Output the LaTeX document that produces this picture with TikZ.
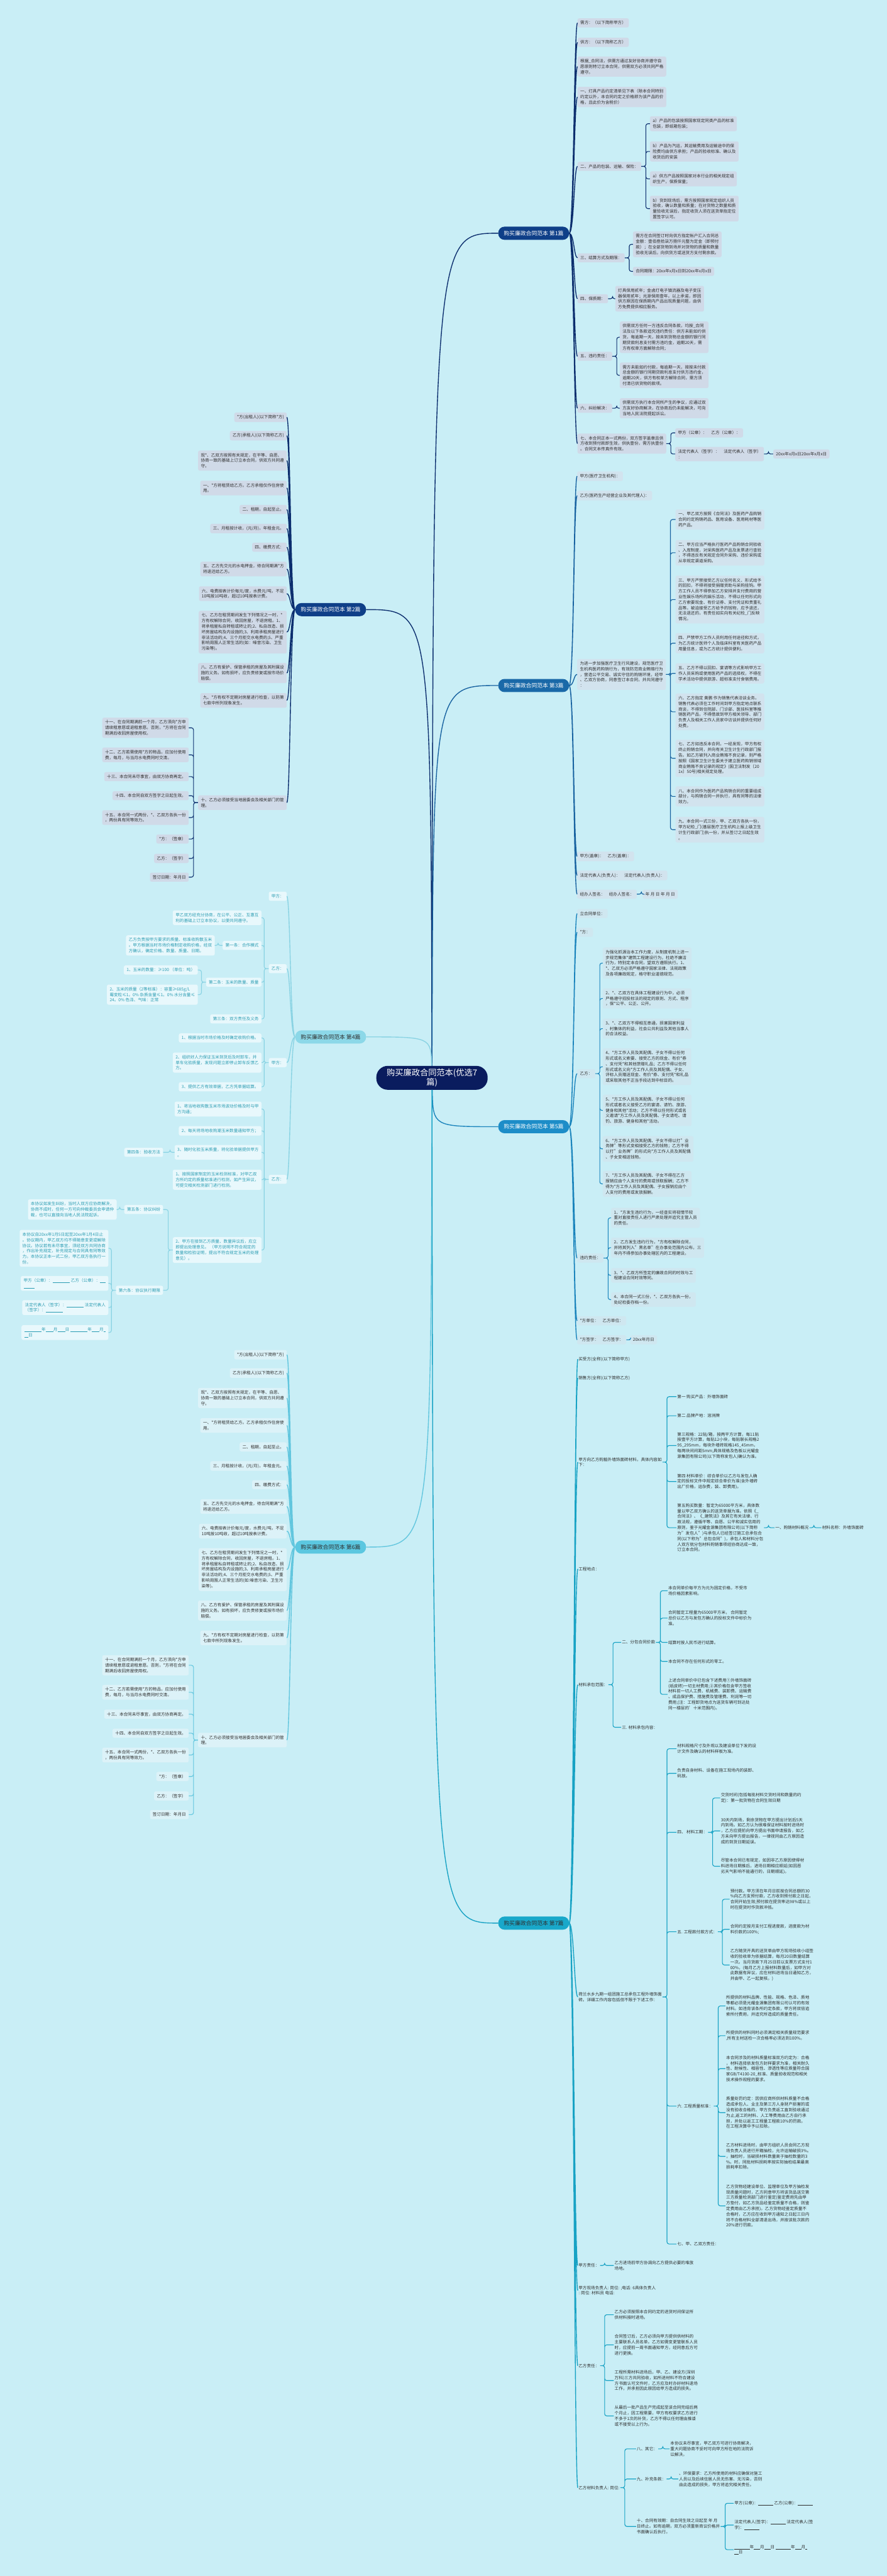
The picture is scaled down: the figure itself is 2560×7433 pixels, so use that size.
\documentclass[tikz,border=0pt]{standalone}
\usepackage{fontspec}
\setmainfont{Noto Sans CJK SC}
\usepackage{tikz}

\definecolor{bgcyan}{HTML}{C9EEF6}
\definecolor{rootblue}{HTML}{0A1C5E}
\definecolor{navy}{HTML}{0C2E6E}
\definecolor{b1node}{HTML}{0F3F88}
\definecolor{graybox}{HTML}{D0DAE8}
\definecolor{b3node}{HTML}{1A69A8}
\definecolor{b3line}{HTML}{1762A0}
\definecolor{b3box}{HTML}{D2E3EE}
\definecolor{b4node}{HTML}{8CD8E8}
\definecolor{b4line}{HTML}{8AD3E3}
\definecolor{b4box}{HTML}{E8F8FC}
\definecolor{b4text}{HTML}{2A9CB2}
\definecolor{b5node}{HTML}{1D8DC8}
\definecolor{b5line}{HTML}{1A84BC}
\definecolor{b5box}{HTML}{CFE7F0}
\definecolor{b6node}{HTML}{5BC7E0}
\definecolor{b6line}{HTML}{62C6DE}
\definecolor{b6box}{HTML}{DCF2F8}
\definecolor{b7node}{HTML}{19A8CA}
\definecolor{b7line}{HTML}{17A2C4}
\definecolor{inkgray}{HTML}{2E2E2E}

\newcommand{\lineblank}[1]{\rule[-1.5pt]{#1}{0.6pt}}

\tikzset{root/.style={
		rectangle,
		rounded corners=33pt,
		fill=rootblue,
		text=white,
		align=center,
		inner xsep=30pt,
		inner ysep=8pt,
		font=\fontsize{24}{28}\selectfont,
	}
}
\tikzset{topic/.style={
		rectangle,
		rounded corners=18pt,
		minimum height=38pt,
		inner xsep=16pt,
		font=\fontsize{16}{19}\selectfont,
	}
}
\tikzset{leaf/.style={
		rectangle,
		rounded corners=5pt,
		align=left,
		inner xsep=8pt,
		inner ysep=7.5pt,
		text=inkgray,
		font=\fontsize{12}{16}\selectfont,
	}
}
\tikzset{b1leaf/.style={leaf, fill=graybox, anchor=west}}
\tikzset{b2leaf/.style={leaf, fill=graybox, anchor=east}}
\tikzset{b3leaf/.style={leaf, fill=b3box, anchor=west}}
\tikzset{b4leaf/.style={leaf, fill=b4box, text=b4text, anchor=east}}
\tikzset{b5leaf/.style={leaf, fill=b5box, anchor=west}}
\tikzset{b6leaf/.style={leaf, fill=b6box, anchor=east}}
\tikzset{b7leaf/.style={leaf, inner xsep=2pt, inner ysep=3pt, anchor=west}}
% connectors
\tikzset{fanR/.style={line width=2.5pt, to path={.. controls +(14,0) and +(-10,0) .. (\tikztotarget)}}}
\tikzset{fanL/.style={line width=2.5pt, to path={.. controls +(-14,0) and +(10,0) .. (\tikztotarget)}}}
\tikzset{brR/.style={line width=2pt, rounded corners=6pt, to path={-- ++(13,0) |- (\tikztotarget)}}}
\tikzset{brL/.style={line width=2pt, rounded corners=6pt, to path={-- ++(-13,0) |- (\tikztotarget)}}}

\begin{document}
\begin{tikzpicture}[x=1pt, y=-1pt]

\fill[bgcyan] (0,0) rectangle (2560,7433);
\useasboundingbox (0,0) rectangle (2560,7433);

% root and topics
\node[root] (root) at (1247,3110) {购买廉政合同范本(优选7\\篇)};
\node[topic, fill=b1node, text=white, anchor=east] (b1) at (1643,673) {购买廉政合同范本 第1篇};
\node[topic, fill=b1node, text=white, anchor=west] (b2) at (852,1759) {购买廉政合同范本 第2篇};
\node[topic, fill=b3node, text=white, anchor=east] (b3) at (1643,1978) {购买廉政合同范本 第3篇};
\node[topic, fill=b4node, text=inkgray, anchor=west] (b4) at (852,2992) {购买廉政合同范本 第4篇};
\node[topic, fill=b5node, text=white, anchor=east] (b5) at (1643,3251) {购买廉政合同范本 第5篇};
\node[topic, fill=b6node, text=inkgray, anchor=west] (b6) at (852,4464) {购买廉政合同范本 第6篇};
\node[topic, fill=b7node, text=inkgray, anchor=east] (b7) at (1643,5549) {购买廉政合同范本 第7篇};

\draw[navy, line width=2.5pt] (root) .. controls (1250,673) .. (b1.west);
\draw[navy, line width=2.5pt] (root) .. controls (1244,1759) .. (b2.east);
\draw[b3line, line width=2.5pt] (root) .. controls (1250,1978) .. (b3.west);
\draw[b4line, line width=2.5pt] (root) .. controls (1244,2992) .. (b4.east);
\draw[b5line, line width=2.5pt] (root) .. controls (1250,3251) .. (b5.west);
\draw[b6line, line width=2.5pt] (root) .. controls (1244,4464) .. (b6.east);
\draw[b7line, line width=2.5pt] (root) .. controls (1250,5549) .. (b7.west);

% branch 1
\node[b1leaf] (b1a) at (1667,66) {需方：（以下简称甲方）};
\node[b1leaf] (b1b) at (1667,122) {供方：（以下简称乙方）};
\node[b1leaf] (b1c) at (1667,192) {根据\_合同法，供需方通过友好协商并遵守自\\愿原则特订立本合同，供需双方必须共同严格\\遵守。};
\node[b1leaf] (b1d) at (1667,280) {一、灯具产品约定清单见下表（除本合同特别\\约定以外，本合同约定之价格即为该产品的价\\格，且此价为含税价）};
\node[b1leaf] (b1e) at (1667,480) {二、产品的包装、运输、保险：};
\node[b1leaf] (b1e1) at (1876,357) {a）产品的包装按照国家现定同类产品的标准\\包装，即纸箱包装；};
\node[b1leaf] (b1e2) at (1876,437) {b）产品为汽运，其运输费用及运输途中的保\\险费均由供方承担；产品的验收标准、确认及\\收货后的安装};
\node[b1leaf] (b1e3) at (1876,516) {a）供方产品按照国家对本行业的相关规定组\\织生产，保质保量；};
\node[b1leaf] (b1e4) at (1876,602) {b）货到现场后，需方按照国家规定组织人员\\验收，确认数量和质量；在对货物之数量和质\\量验收无误后，指定收货人须在送货单指定位\\置签字认可。};
\node[b1leaf] (b1f) at (1667,744) {三、结算方式及期限：};
\node[b1leaf] (b1f1) at (1827,705) {需方在合同签订时向供方指定帐户汇入合同总\\金额：壹佰叁拾柒万捌仟元整为定金（即预付\\款）；在全部货物到场并对货物的质量和数量\\验收无误后，向供货方或送货方支付剩余款。};
\node[b1leaf] (b1f2) at (1827,783) {合同期限：20xx年x月x日到20xx年x月x日};
\node[b1leaf] (b1g) at (1667,862) {四、保质期：};
\node[b1leaf] (b1g1) at (1776,862) {灯具保用贰年；金卤灯电子镇流器及电子变压\\器保用贰年；光源保用壹年。以上承诺，即因\\供方原因在保质期内产品出现质量问题，由供\\方免费提供相应服务。};
\node[b1leaf] (b1h) at (1667,1028) {五、违约责任：};
\node[b1leaf] (b1h1) at (1789,973) {供需双方任何一方违反合同条款，均按\_合同\\法及以下条款追究违约责任：供方未能如约供\\货，每逾期一天，按未到货物总金额的银行同\\期贷款利息支付需方违约金，逾期20天，需\\方有权单方面解除合同；};
\node[b1leaf] (b1h2) at (1789,1083) {需方未能如约付款，每逾期一天，按按未付款\\总金额的银行同期贷款利息支付供方违约金，\\逾期20天，供方有权单方解除合同，需方须\\付清已供货物的款项。};
\node[b1leaf] (b1i) at (1667,1178) {六、纠纷解决：};
\node[b1leaf] (b1i1) at (1789,1178) {供需双方执行本合同所产生的争议，应通过双\\方友好协商解决，在协商后仍未能解决，可向\\当地人民法院提起诉讼。};
\node[b1leaf] (b1j) at (1667,1280) {七、本合同正本一式两份，双方签字盖章且供\\方收到预付款即生效，供执壹份，需方执壹份\\。合同文本传真件有效。};
\node[b1leaf] (b1j1) at (1949,1249) {甲方（公章）：　乙方（公章）：};
\node[b1leaf] (b1j2) at (1949,1310) {法定代表人（签字）：　法定代表人（签字）\\：};
\node[b1leaf] (b1j3) at (2232,1310) {20xx年x月x日20xx年x月x日};

\draw[navy, fanR] (b1.east) to (b1a.west) (b1.east) to (b1b.west) (b1.east) to (b1c.west) (b1.east) to (b1d.west) (b1.east) to (b1e.west);
\draw[navy, fanR] (b1.east) to (b1f.west) (b1.east) to (b1g.west) (b1.east) to (b1h.west) (b1.east) to (b1i.west) (b1.east) to (b1j.west);
\draw[navy, brR] (b1e.east) to (b1e1.west) (b1e.east) to (b1e2.west) (b1e.east) to (b1e3.west) (b1e.east) to (b1e4.west);
\draw[navy, brR] (b1f.east) to (b1f1.west) (b1f.east) to (b1f2.west) (b1g.east) to (b1g1.west);
\draw[navy, brR] (b1h.east) to (b1h1.west) (b1h.east) to (b1h2.west) (b1i.east) to (b1i1.west);
\draw[navy, brR] (b1j.east) to (b1j1.west) (b1j.east) to (b1j2.west) (b1j2.east) to (b1j3.west);

% branch 2
\node[b2leaf] (b2a) at (828,1204) {*方(出租人)(以下简称*方)};
\node[b2leaf] (b2b) at (828,1257) {乙方(承租人)(以下简称乙方)};
\node[b2leaf] (b2c) at (828,1329) {现*、乙双方按照有关规定，在平等、自愿、\\协商一致的基础上订立本合同，供双方共同遵\\守。};
\node[b2leaf] (b2d) at (828,1408) {一、*方将租赁给乙方。乙方承租仅作住房使\\用。};
\node[b2leaf] (b2e) at (828,1470) {二、租期，自起至止。};
\node[b2leaf] (b2f) at (828,1525) {三、月租按计收，(元/月)，年租金元。};
\node[b2leaf] (b2g) at (828,1579) {四、缴费方式：};
\node[b2leaf] (b2h) at (828,1642) {五、乙方先交元的水电押金，待合同期满*方\\将退还给乙方。};
\node[b2leaf] (b2i) at (828,1713) {六、电费按表计价每元/度，水费元/吨，不足\\10吨按10吨收，超过10吨按表计费。};
\node[b2leaf] (b2j) at (828,1824) {七、乙方在租赁期间发生下列情况之一时，*\\方有权解除合同，收回房屋，不退房租。1、\\将承租屋私自转租或转让的;2、私自改造、损\\坏房屋结构及内设施的;3、利用承租房屋进行\\非法活动的;4、三个月拒交水电费的;5、严重\\影响周围人正常生活的(如：噪音污染、卫生\\污染等)。};
\node[b2leaf] (b2k) at (828,1942) {八、乙方有爱护、保管承租的房屋及其附属设\\施的义务。如有损坏，应负责修复或按市场价\\赔偿。};
\node[b2leaf] (b2l) at (828,2021) {九、*方有权不定期对房屋进行检查，以防第\\七款中所列现象发生。};
\node[b2leaf] (b2m) at (828,2316) {十、乙方必须接受当地居委会及相关部门的管\\理。};
\node[b2leaf] (b2m1) at (545,2100) {十一、在合同期满前一个月，乙方须向*方申\\请续租意愿或退租意愿。否则，*方将在合同\\期满后收回房屋使用权。};
\node[b2leaf] (b2m2) at (545,2178) {十二、乙方若需使用*方的物品，应加付使用\\费，每月，与当月水电费同时交清。};
\node[b2leaf] (b2m3) at (545,2241) {十三、本合同未尽事宜，由双方协商再定。};
\node[b2leaf] (b2m4) at (545,2296) {十四、本合同自双方签字之日起生效。};
\node[b2leaf] (b2m5) at (545,2359) {十五、本合同一式两份，*、乙双方各执一份\\，两份具有同等效力。};
\node[b2leaf] (b2m6) at (545,2421) {*方：（签章）};
\node[b2leaf] (b2m7) at (545,2477) {乙方：（签字）};
\node[b2leaf] (b2m8) at (545,2531) {签订日期：年月日};

\draw[navy, fanL] (b2.west) to (b2a.east) (b2.west) to (b2b.east) (b2.west) to (b2c.east) (b2.west) to (b2d.east) (b2.west) to (b2e.east) (b2.west) to (b2f.east) (b2.west) to (b2g.east);
\draw[navy, fanL] (b2.west) to (b2h.east) (b2.west) to (b2i.east) (b2.west) to (b2j.east) (b2.west) to (b2k.east) (b2.west) to (b2l.east) (b2.west) to (b2m.east);
\draw[navy, brL] (b2m.west) to (b2m1.east) (b2m.west) to (b2m2.east) (b2m.west) to (b2m3.east) (b2m.west) to (b2m4.east);
\draw[navy, brL] (b2m.west) to (b2m5.east) (b2m.west) to (b2m6.east) (b2m.west) to (b2m7.east) (b2m.west) to (b2m8.east);

% branch 3
\node[b3leaf] (b3a) at (1666,1374) {甲方(医疗卫生机构)：};
\node[b3leaf] (b3b) at (1666,1430) {乙方(医药生产经营企业及其代理人)：};
\node[b3leaf] (b3c) at (1666,1946) {为进一步加强医疗卫生行风建设，规范医疗卫\\生机构医药购销行为，有效防范商业贿赂行为\\，营造公平交易、诚实守信的购销环境，经甲\\、乙双方协商，同意签订本合同，并共同遵守\\：};
\node[b3leaf] (b3c1) at (1950,1499) {一、甲乙双方按照《合同法》及医药产品购销\\合同约定购销药品、医用设备、医用耗材等医\\药产品。};
\node[b3leaf] (b3c2) at (1950,1595) {二、甲方应当严格执行医药产品购销合同验收\\、入库制度，对采购医药产品及发票进行查验\\，不得违反有关规定合同外采购、违价采购或\\从非规定渠道采购。};
\node[b3leaf] (b3c3) at (1950,1730) {三、甲方严禁接受乙方以任何名义、形式给予\\的回扣，不得将接受捐赠资助与采购挂钩。甲\\方工作人员不得参加乙方安排并支付费用的营\\业性娱乐场所的娱乐活动，不得以任何形式向\\乙方索要现金、有价证券、支付凭证和贵重礼\\品等。被迫接受乙方给予的钱物，应予退还，\\无法退还的，有责任如实向有关纪检\_门反映\\情况。};
\node[b3leaf] (b3c4) at (1950,1856) {四、严禁甲方工作人员利用任何途径和方式，\\为乙方统计医师个人及临床科室有关医药产品\\用量信息，或为乙方统计提供便利。};
\node[b3leaf] (b3c5) at (1950,1943) {五、乙方不得以回扣、宴请等方式影响甲方工\\作人员采购或使用医药产品的选择权，不得在\\学术活动中提供旅游、超标准支付食宿费用。};
\node[b3leaf] (b3c6) at (1950,2054) {六、乙方指定 黄鹏 作为销售代表洽谈业务。\\销售代表必须在工作时间到甲方指定地点联系\\商谈，不得到住院部、门诊部、医技科室等推\\销医药产品，不得借故到甲方相关领导、部门\\负责人及相关工作人员家中访谈并提供任何好\\处费。};
\node[b3leaf] (b3c7) at (1950,2188) {七、乙方如违反本合同，一经发现，甲方有权\\终止购销合同，并向有关卫生计生行政部门报\\告。如乙方被列入商业贿赂不良记录，则严格\\按照《国家卫生计生委关于建立医药购销领域\\商业贿赂不良记录的规定》(国卫法制发〔20\\1x〕50号)相关规定处理。};
\node[b3leaf] (b3c8) at (1950,2298) {八、本合同作为医药产品购销合同的重要组成\\部分，与购销合同一并执行，具有同等的法律\\效力。};
\node[b3leaf] (b3c9) at (1950,2394) {九、本合同一式三份，甲、乙双方各执一份，\\甲方纪检\_门(基层医疗卫生机构上报上级卫生\\计生行政部门)执一份，并从签订之日起生效\\。};
\node[b3leaf] (b3d) at (1666,2471) {甲方(盖章)：　乙方(盖章)：};
\node[b3leaf] (b3e) at (1666,2526) {法定代表人(负责人)：　法定代表人(负责人)：};
\node[b3leaf] (b3f) at (1666,2580) {经办人签名：　经办人签名：};
\node[b3leaf] (b3f1) at (1855,2580) {年 月 日 年 月 日};

\draw[b3line, fanR] (b3.east) to (b3a.west) (b3.east) to (b3b.west) (b3.east) to (b3c.west) (b3.east) to (b3d.west) (b3.east) to (b3e.west) (b3.east) to (b3f.west);
\draw[b3line, brR] (b3c.east) to (b3c1.west) (b3c.east) to (b3c2.west) (b3c.east) to (b3c3.west) (b3c.east) to (b3c4.west) (b3c.east) to (b3c5.west);
\draw[b3line, brR] (b3c.east) to (b3c6.west) (b3c.east) to (b3c7.west) (b3c.east) to (b3c8.west) (b3c.east) to (b3c9.west) (b3f.east) to (b3f1.west);

% branch 4
\node[b4leaf] (b4a) at (828,2586) {甲方：};
\node[b4leaf] (b4b) at (828,2795) {乙方：};
\node[b4leaf] (b4b1) at (755,2648) {甲乙双方经充分协商，在公平、公正、互惠互\\利的基础上订立本协议，以便共同遵守。};
\node[b4leaf] (b4b2) at (755,2728) {第一条：合作模式};
\node[b4leaf] (b4b2a) at (620,2728) {乙方负责按甲方要求的质量、标准收购散玉米\\。甲方根据当时市场价格制定收购价格，经双\\方确认，确定价格、数量、质量、日期。};
\node[b4leaf] (b4b3) at (755,2834) {第二条：玉米的数量、质量};
\node[b4leaf] (b4b3a) at (571,2799) {1、玉米的数量：≥100 （单位：吨）};
\node[b4leaf] (b4b3b) at (571,2870) {2、玉米的质量（2等标准）：容重≥685g/L\\霉变粒≤1。0\% 杂质含量≤1。0\% 水分含量≤\\24。0\% 色泽、气味：正常};
\node[b4leaf] (b4b4) at (755,2940) {第三条：双方责任及义务};
\node[b4leaf] (b4c) at (828,3066) {甲方：};
\node[b4leaf] (b4c1) at (755,2995) {1、根据当时市场价格及时确定收购价格。};
\node[b4leaf] (b4c2) at (755,3066) {2、组织好人力保证玉米到货后及时卸车，并\\单车化验质量，发现问题立即停止卸车反馈乙\\方。};
\node[b4leaf] (b4c3) at (755,3136) {3、提供乙方有效单据，乙方凭单据结算。};
\node[b4leaf] (b4d) at (828,3403) {乙方：};
\node[b4leaf] (b4d1) at (755,3200) {1、将当地收购散玉米市场波动价格及时与甲\\方沟通；};
\node[b4leaf] (b4d2) at (755,3263) {2、每天将场地收购潮玉米数量通知甲方；};
\node[b4leaf] (b4d3) at (755,3325) {3、随时化验玉米质量，将化验单据提供甲方\\。};
\node[b4leaf] (b4d3a) at (471,3325) {第四条：验收方法};
\node[b4leaf] (b4d4) at (755,3404) {1、按照国家制定的玉米检测标准，对甲乙双\\方所约定的质量标准进行检测，如产生异议，\\可提交相关检测部门进行检测。};
\node[b4leaf] (b4d5) at (755,3607) {2、甲方在接到乙方质量、数量异议后，应立\\即提出处理意见。 （甲方说明不符合规定的\\数量和检验证明，提出不符合规定玉米的处理\\意见）。};
\node[b4leaf] (b4e) at (471,3490) {第五条：协议纠纷};
\node[b4leaf] (b4e1) at (337,3490) {本协议如发生纠纷，当时人双方应协商解决，\\协商不成时，任何一方可向仲裁委员会申请仲\\裁，也可以直接向当地人民法院起诉。};
\node[b4leaf] (b4f) at (471,3723) {第六条：协议执行期限};
\node[b4leaf] (b4f1) at (313,3602) {本协议自20xx年1月5日起至20xx年1月4日止\\。协议期内，甲乙双方均不得随意变更或解除\\协议。协议若有未尽事宜，须经双方共同协商\\，作出补充规定，补充规定与合同具有同等效\\力。本协议正本一式二份，甲乙双方各执行一\\份。};
\node[b4leaf] (b4f2) at (313,3703) {甲方（公章）：\lineblank{50pt} 乙方（公章）：\lineblank{16pt}\\\lineblank{32pt}};
\node[b4leaf] (b4f3) at (313,3773) {法定代表人（签字）：\lineblank{50pt} 法定代表人\\（签字）：\lineblank{50pt}};
\node[b4leaf] (b4f4) at (313,3845) {\lineblank{50pt}年\lineblank{22pt}月\lineblank{22pt}日 \lineblank{50pt}年\lineblank{22pt}月\lineblank{6pt}\\\lineblank{12pt}日};

\draw[b4line, fanL] (b4.west) to (b4a.east) (b4.west) to (b4b.east) (b4.west) to (b4c.east) (b4.west) to (b4d.east);
\draw[b4line, brL] (b4b.west) to (b4b1.east) (b4b.west) to (b4b2.east) (b4b.west) to (b4b3.east) (b4b.west) to (b4b4.east);
\draw[b4line, brL] (b4b2.west) to (b4b2a.east) (b4b3.west) to (b4b3a.east) (b4b3.west) to (b4b3b.east);
\draw[b4line, brL] (b4c.west) to (b4c1.east) (b4c.west) to (b4c2.east) (b4c.west) to (b4c3.east);
\draw[b4line, brL] (b4d.west) to (b4d1.east) (b4d.west) to (b4d2.east) (b4d.west) to (b4d3.east) (b4d.west) to (b4d4.east) (b4d.west) to (b4d5.east);
\draw[b4line, brL] (b4d3.west) to (b4d3a.east) (b4d5.west) to (b4e.east) (b4d5.west) to (b4f.east) (b4e.west) to (b4e1.east);
\draw[b4line, brL] (b4f.west) to (b4f1.east) (b4f.west) to (b4f2.east) (b4f.west) to (b4f3.east) (b4f.west) to (b4f4.east);

% branch 5
\node[b5leaf] (b5a) at (1666,2636) {立合同单位：};
\node[b5leaf] (b5b) at (1666,2690) {*方：};
\node[b5leaf] (b5c) at (1666,3098) {乙方：};
\node[b5leaf] (b5c1) at (1740,2779) {为强化抓源治本工作力度，从制度机制上进一\\步规范集体*建筑工程建设行为，杜绝不廉洁\\行为，特别定本合同，望双方遵照执行。1、\\{}*、乙双方必须严格遵守国家法律、法规政策\\及各项廉政规定，格守职业道德规范。};
\node[b5leaf] (b5c2) at (1740,2881) {2、*、乙双方在具体工程建设行为中，必须\\严格遵守招投标法的规定的原则、方式、程序\\，保*公平、公正、公开。};
\node[b5leaf] (b5c3) at (1740,2968) {3、*、乙双方不得相互串通，损害国家利益\\、村集体的利益，社会公共利益及其他当事人\\的合法权益。};
\node[b5leaf] (b5c4) at (1740,3078) {4、*方工作人员及其配偶、子女不得以任何\\形式或名义索要、接受乙方的现金、有价*券\\、支付凭*和其他馈赠礼品；乙方不得以任何\\形式或名义向*方工作人员及其配偶、子女、\\评标人员赠送现金、有价*券、支付凭*和礼品\\或采取其他不正当手段达到中标目的。};
\node[b5leaf] (b5c5) at (1740,3204) {5、*方工作人员及其配偶、子女不得以任何\\形式或者名义接受乙方的宴请、请钓、旅游、\\健身和其他*活动；乙方不得以任何形式或名\\义邀请*方工作人员及其配偶、子女请吃、请\\钓、旅游、健身和其他*活动。};
\node[b5leaf] (b5c6) at (1740,3315) {6、*方工作人员及其配偶、子女不得以打"业\\务牌"等形式变相接受乙方的钱物；乙方不得\\以打"业务牌"的形式向*方工作人员及其配偶\\、子女变相送钱物。};
\node[b5leaf] (b5c7) at (1740,3416) {7、*方工作人员及其配偶、子女不得在乙方\\报销应由个人支付的费用或领取报酬；乙方不\\得为*方工作人员及其配偶、子女报销应由个\\人支付的费用或发放报酬。};
\node[b5leaf] (b5d) at (1666,3630) {违约责任：};
\node[b5leaf] (b5d1) at (1764,3514) {1、*方发生违约行为，一经查实将视情节较\\重对直接责任人进行严肃处理并追究主管人员\\的责任。};
\node[b5leaf] (b5d2) at (1764,3600) {2、乙方发生违约行为，*方有权解除合同，\\并将其列入"黑名单"在办事处范围内公布，三\\年内不得参加办事处辖区内的工程建设。};
\node[b5leaf] (b5d3) at (1764,3680) {3、*、乙双方所签定的廉政合同的时效与工\\程建设合同时效等同。};
\node[b5leaf] (b5d4) at (1764,3750) {4、本合同一式三份，*、乙双方各执一份，\\处纪检委存档一份。};
\node[b5leaf] (b5e) at (1666,3811) {*方单位：　乙方单位：};
\node[b5leaf] (b5f) at (1666,3866) {*方签字：　乙方签字：};
\node[b5leaf] (b5f1) at (1819,3866) {20xx年月日};

\draw[b5line, fanR] (b5.east) to (b5a.west) (b5.east) to (b5b.west) (b5.east) to (b5c.west) (b5.east) to (b5d.west) (b5.east) to (b5e.west) (b5.east) to (b5f.west);
\draw[b5line, brR] (b5c.east) to (b5c1.west) (b5c.east) to (b5c2.west) (b5c.east) to (b5c3.west) (b5c.east) to (b5c4.west) (b5c.east) to (b5c5.west) (b5c.east) to (b5c6.west) (b5c.east) to (b5c7.west);
\draw[b5line, brR] (b5d.east) to (b5d1.west) (b5d.east) to (b5d2.west) (b5d.east) to (b5d3.west) (b5d.east) to (b5d4.west) (b5f.east) to (b5f1.west);

% branch 6
\node[b6leaf] (b6a) at (828,3909) {*方(出租人)(以下简称*方)};
\node[b6leaf] (b6b) at (828,3962) {乙方(承租人)(以下简称乙方)};
\node[b6leaf] (b6c) at (828,4034) {现*、乙双方按照有关规定，在平等、自愿、\\协商一致的基础上订立本合同，供双方共同遵\\守。};
\node[b6leaf] (b6d) at (828,4113) {一、*方将租赁给乙方。乙方承租仅作住房使\\用。};
\node[b6leaf] (b6e) at (828,4175) {二、租期，自起至止。};
\node[b6leaf] (b6f) at (828,4230) {三、月租按计收，(元/月)，年租金元。};
\node[b6leaf] (b6g) at (828,4284) {四、缴费方式：};
\node[b6leaf] (b6h) at (828,4347) {五、乙方先交元的水电押金，待合同期满*方\\将退还给乙方。};
\node[b6leaf] (b6i) at (828,4418) {六、电费按表计价每元/度，水费元/吨，不足\\10吨按10吨收，超过10吨按表计费。};
\node[b6leaf] (b6j) at (828,4529) {七、乙方在租赁期间发生下列情况之一时，*\\方有权解除合同，收回房屋，不退房租。1、\\将承租屋私自转租或转让的;2、私自改造、损\\坏房屋结构及内设施的;3、利用承租房屋进行\\非法活动的;4、三个月拒交水电费的;5、严重\\影响周围人正常生活的(如:噪音污染、卫生污\\染等)。};
\node[b6leaf] (b6k) at (828,4647) {八、乙方有爱护、保管承租的房屋及其附属设\\施的义务。如有损坏，应负责修复或按市场价\\赔偿。};
\node[b6leaf] (b6l) at (828,4726) {九、*方有权不定期对房屋进行检查，以防第\\七款中所列现象发生。};
\node[b6leaf] (b6m) at (828,5021) {十、乙方必须接受当地居委会及相关部门的管\\理。};
\node[b6leaf] (b6m1) at (545,4805) {十一、在合同期满前一个月，乙方须向*方申\\请续租意愿或退租意愿。否则，*方将在合同\\期满后收回房屋使用权。};
\node[b6leaf] (b6m2) at (545,4883) {十二、乙方若需使用*方的物品，应加付使用\\费，每月，与当月水电费同时交清。};
\node[b6leaf] (b6m3) at (545,4946) {十三、本合同未尽事宜，由双方协商再定。};
\node[b6leaf] (b6m4) at (545,5001) {十四、本合同自双方签字之日起生效。};
\node[b6leaf] (b6m5) at (545,5064) {十五、本合同一式两份，*、乙双方各执一份\\，两份具有同等效力。};
\node[b6leaf] (b6m6) at (545,5126) {*方：（签章）};
\node[b6leaf] (b6m7) at (545,5182) {乙方：（签字）};
\node[b6leaf] (b6m8) at (545,5236) {签订日期：年月日};

\draw[b6line, fanL] (b6.west) to (b6a.east) (b6.west) to (b6b.east) (b6.west) to (b6c.east) (b6.west) to (b6d.east) (b6.west) to (b6e.east) (b6.west) to (b6f.east) (b6.west) to (b6g.east);
\draw[b6line, fanL] (b6.west) to (b6h.east) (b6.west) to (b6i.east) (b6.west) to (b6j.east) (b6.west) to (b6k.east) (b6.west) to (b6l.east) (b6.west) to (b6m.east);
\draw[b6line, brL] (b6m.west) to (b6m1.east) (b6m.west) to (b6m2.east) (b6m.west) to (b6m3.east) (b6m.west) to (b6m4.east);
\draw[b6line, brL] (b6m.west) to (b6m5.east) (b6m.west) to (b6m6.east) (b6m.west) to (b6m7.east) (b6m.west) to (b6m8.east);

% branch 7
\node[b7leaf] (b7a) at (1668,3922) {买受方(全称)(以下简称甲方)};
\node[b7leaf] (b7b) at (1668,3976) {销售方(全称)(以下简称乙方)};
\node[b7leaf] (b7c) at (1668,4219) {甲方向乙方购豁外墙饰面砖材料，具体内容如\\下：};
\node[b7leaf] (b7c1) at (1953,4030) {第一 购买产品：外墙饰面砖};
\node[b7leaf] (b7c2) at (1953,4085) {第二 品牌产地：溶洲牌};
\node[b7leaf] (b7c3) at (1953,4171) {第三规格：22贴/箱，按两平方计算，每11贴\\按壹平方计算，每贴12小块，每贴联长规格2\\95\_295mm，每块外墙砖规格145\_45mm，\\每两块间间距5mm;具体规格及色板以光耀金\\源集团有限公司(以下简称发包人)确认为准。};
\node[b7leaf] (b7c4) at (1953,4275) {第四 材料单价：综合单价以乙方与发包人确\\定的投标文件中规定综合单价为准(含外墙砖\\出厂价格，运杂费，装、卸费用)。};
\node[b7leaf] (b7c5) at (1953,4408) {第五购买数量：暂定为65000平方米，具体数\\量以甲乙双方确认的送货单据为准。依照《\_\\合同法》、《\_建筑法》及其它有关法律、行\\政法规，遵循平等、自愿、公平和诚实信用的\\原则，鉴于光耀金源集团有限公司(以下简称\\为"发包人")与承包人已经签订施工总承包合\\同(以下称为"总包合同")，承包人和材料分包\\人双方就分包材料购销事项经协商达成一致，\\订立本合同。};
\node[b7leaf] (b7c5a) at (2236,4408) {一、购销材料概况};
\node[b7leaf] (b7c5b) at (2371,4408) {材料名称：外墙饰面砖};
\node[b7leaf] (b7d) at (1668,4527) {工程地点：};
\node[b7leaf] (b7e) at (1668,4861) {材料承包范围：};
\node[b7leaf] (b7e1) at (1793,4739) {二、分包合同价款};
\node[b7leaf] (b7e1a) at (1927,4590) {本合同单价每平方为元为固定价格，不受市\\场价格因素影响。};
\node[b7leaf] (b7e1b) at (1927,4669) {合同暂定工程量为65000平方米， 合同暂定\\总价以乙方与发包方确认的投标文件中标价为\\准。};
\node[b7leaf] (b7e1c) at (1927,4739) {结算时按人民币进行结算。};
\node[b7leaf] (b7e1d) at (1927,4794) {本合同不存在任何形式的零工。};
\node[b7leaf] (b7e1e) at (1927,4889) {上述合同单价中已包含下述费用①外墙饰面砖\\(纸皮砖)一切主材费用;②其价格包含甲方签收\\材料前一切人工费、机械费、装卸费、运输费\\、成品保护费、措施费及管理费、利润等一切\\费用;(注：工程卸货地点为送货车辆可到达处\\同一楼层的'十米范围内)。};
\node[b7leaf] (b7e2) at (1793,4984) {三. 材料承包内容：};
\node[b7leaf] (b7f) at (1668,5762) {荷兰水乡九期一组团施工总承包工程外墙饰面\\砖。详细工作内容包括但不限于下述工作：};
\node[b7leaf] (b7f1) at (1953,5046) {材料规格尺寸及外观以及建设单位下发的设\\计文件及确认的材料样板为准。};
\node[b7leaf] (b7f2) at (1953,5117) {负责自身材料、设备在施工现场内的装卸、\\码放。};
\node[b7leaf] (b7f3) at (1953,5287) {四、 材料工期：};
\node[b7leaf] (b7f3a) at (2079,5188) {交货时间(包括每批材料交货时间和数量的约\\定)：第一批货物在合同生效日期};
\node[b7leaf] (b7f3b) at (2079,5283) {30天内到场，剩余货物在甲方提出计划后5天\\内到场。如乙方认为很难保证材料按时进场时\\，乙方应提前向甲方提出书面申请报告，如乙\\方未向甲方提出报告，一律视同由乙方原因造\\成的到货日期延误。};
\node[b7leaf] (b7f3c) at (2079,5385) {尽管本合同已有规定，如因非乙方原因使得材\\料进场日期推后，进场日期相应顺延(如因恶\\劣天气影响不能通行的，日期顺延)。};
\node[b7leaf] (b7f4) at (1953,5574) {五. 工程款付款方式：};
\node[b7leaf] (b7f4a) at (2106,5480) {预付款。甲方须在年月日前按合同总额的30\\\%向乙方支预付款，乙方收到预付款之日起，\\合同开始生效;预付款在提货率达98\%或以上\\时在提货时作货款冲抵。};
\node[b7leaf] (b7f4b) at (2106,5567) {合同约定按月支付工程进度款，进度款为材\\料价款的100\%;};
\node[b7leaf] (b7f4c) at (2106,5670) {乙方随货开具的送货单由甲方现场验收小组签\\收的验收单为依据结算，每月20日数量结算\\一次。当月货款下月25日前以支票方式支付1\\00\%，(每月乙方上报材料数量后，如甲方对\\此数据有异议，应在材料进场当日通知乙方，\\并由甲、乙一起复核。)};
\node[b7leaf] (b7f5) at (1953,6077) {六. 工程质量标准：};
\node[b7leaf] (b7f5a) at (2094,5788) {所提供的材料品牌、性能、规格、色泽、质地\\等都必须是光耀金源集团有限公司认可的有效\\材料。如违背该条所约定条款，甲方将双倍追\\索所付费用，并追究所造成的质量责任。};
\node[b7leaf] (b7f5b) at (2094,5874) {所提供的材料同时必须满足相关质量规范要求\\,所有主材送检一次合格率必须达到100\%。};
\node[b7leaf] (b7f5c) at (2094,5969) {本合同涉及的材料质量标准双方约定为：合格\\，材料选择依发包方封样要求为准，相关耐久\\性、耐候性、相容性、渗透性等应质量符合国\\家GB/T4100-20\_标准、质量验收规范和相关\\技术操作规程的要求。};
\node[b7leaf] (b7f5d) at (2094,6096) {质量处罚约定：因供应商所供材料质量不合格\\造成承包人、业主及第三方人身财产损害的或\\没有验收合格的，甲方负责返工直到验收通过\\为止,返工的材料、人工等费用由乙方自行承\\担，并处以返工工程量工程款10\%的罚款。\\在工程决算中予以扣除。};
\node[b7leaf] (b7f5e) at (2094,6222) {乙方材料进场时，由甲方组织人员会同乙方现\\场负责人员进行开箱抽检，允许运输破损3\%。\\，抽检时，当破损材料数量高于抽检数量的3\\\%。时，同批材料损耗率按实际抽检结果最高\\损耗率扣除。};
\node[b7leaf] (b7f5f) at (2094,6365) {乙方货物经建设单位、监理单位及甲方抽检发\\现质量问题时，乙方同意甲方将该货品送交第\\三方质量检测部门进行鉴定(鉴定费用先由甲\\方垫付，如乙方货品经鉴定质量不合格，则鉴\\定费用由乙方承担)。乙方货物经鉴定质量不\\合格时，乙方应在收到甲方通知之日起三日内\\将不合格材料全部清退出场，并按该批次款的\\20\%进行罚款。};
\node[b7leaf] (b7f6) at (1953,6475) {七、甲、乙双方责任：};
\node[b7leaf] (b7g) at (1668,6537) {甲方责任：};
\node[b7leaf] (b7g1) at (1772,6537) {乙方进场前甲方协调向乙方提供必要的堆放\\场地。};
\node[b7leaf] (b7h) at (1668,6609) {甲方现场负责人: 岗位: ;电话: 6具体负责人\\: 岗位: 材料员 电话:};
\node[b7leaf] (b7i) at (1668,6826) {乙方责任：};
\node[b7leaf] (b7i1) at (1772,6679) {乙方必须按照本合同约定的进货时间保证所\\供材料按时进场。};
\node[b7leaf] (b7i2) at (1772,6766) {合同签订后，乙方必须向甲方提供供材料的\\主要联系人员名单。乙方如需变更管联系人员\\时，应提前一周书面通知甲方，经同意后方可\\进行更换。};
\node[b7leaf] (b7i3) at (1772,6869) {工程所需材料进场后，甲、乙、建设方(深圳\\万科)三方共同验收，如所进材料不符合建设\\方书面认可文件时，乙方应及时办好材料退场\\工作，并承担因此原因给甲方造成的损失。};
\node[b7leaf] (b7i4) at (1772,6971) {从最后一批产品生产完成起至该合同完结后两\\个月止，因工程需要，甲方有权要求乙方进行\\不多于1次的补货，乙方不得以任何理由推诿\\或不接受以上行为。};
\node[b7leaf] (b7j) at (1668,7178) {乙方材料负责人: 岗位:};
\node[b7leaf] (b7j1) at (1836,7066) {八、其它：};
\node[b7leaf] (b7j1a) at (1933,7066) {本协议未尽事宜，甲乙双方可进行协商解决，\\重大问题协商不妥时可向甲方所在地的法院诉\\讼解决。};
\node[b7leaf] (b7j2) at (1836,7153) {九、补充条款：};
\node[b7leaf] (b7j2a) at (1958,7153) {、环保要求：乙方所使用的材料应确保对施工\\人员以及后续住居人员无伤害、无污染，否则\\由此造成的损失，甲方将追究相关责任。};
\node[b7leaf] (b7j3) at (1836,7290) {十、合同有效期：自合同生效之日起至 年 月\\日终止。如有逾期，双方必须重新商议价格并\\书面确认后执行。};
\node[b7leaf] (b7j3a) at (2118,7223) {甲方(公章)：\lineblank{44pt} 乙方(公章)：\lineblank{44pt}};
\node[b7leaf] (b7j3b) at (2118,7286) {法定代表人(签字)：\lineblank{44pt} 法定代表人(签\\字)：\lineblank{44pt}};
\node[b7leaf] (b7j3c) at (2118,7357) {\lineblank{44pt}年\lineblank{18pt}月\lineblank{18pt}日 \lineblank{44pt}年\lineblank{18pt}月\lineblank{6pt}\\\lineblank{12pt}日};

\draw[b7line, fanR] (b7.east) to (b7a.west) (b7.east) to (b7b.west) (b7.east) to (b7c.west) (b7.east) to (b7d.west) (b7.east) to (b7e.west);
\draw[b7line, fanR] (b7.east) to (b7f.west) (b7.east) to (b7g.west) (b7.east) to (b7h.west) (b7.east) to (b7i.west) (b7.east) to (b7j.west);
\draw[b7line, brR] (b7c.east) to (b7c1.west) (b7c.east) to (b7c2.west) (b7c.east) to (b7c3.west) (b7c.east) to (b7c4.west) (b7c.east) to (b7c5.west);
\draw[b7line, brR] (b7c5.east) to (b7c5a.west) (b7c5a.east) to (b7c5b.west) (b7e.east) to (b7e1.west) (b7e.east) to (b7e2.west);
\draw[b7line, brR] (b7e1.east) to (b7e1a.west) (b7e1.east) to (b7e1b.west) (b7e1.east) to (b7e1c.west) (b7e1.east) to (b7e1d.west) (b7e1.east) to (b7e1e.west);
\draw[b7line, brR] (b7f.east) to (b7f1.west) (b7f.east) to (b7f2.west) (b7f.east) to (b7f3.west) (b7f.east) to (b7f4.west) (b7f.east) to (b7f5.west) (b7f.east) to (b7f6.west);
\draw[b7line, brR] (b7f3.east) to (b7f3a.west) (b7f3.east) to (b7f3b.west) (b7f3.east) to (b7f3c.west);
\draw[b7line, brR] (b7f4.east) to (b7f4a.west) (b7f4.east) to (b7f4b.west) (b7f4.east) to (b7f4c.west);
\draw[b7line, brR] (b7f5.east) to (b7f5a.west) (b7f5.east) to (b7f5b.west) (b7f5.east) to (b7f5c.west) (b7f5.east) to (b7f5d.west) (b7f5.east) to (b7f5e.west) (b7f5.east) to (b7f5f.west);
\draw[b7line, brR] (b7g.east) to (b7g1.west) (b7i.east) to (b7i1.west) (b7i.east) to (b7i2.west) (b7i.east) to (b7i3.west) (b7i.east) to (b7i4.west);
\draw[b7line, brR] (b7j.east) to (b7j1.west) (b7j.east) to (b7j2.west) (b7j.east) to (b7j3.west) (b7j1.east) to (b7j1a.west) (b7j2.east) to (b7j2a.west);
\draw[b7line, brR] (b7j3.east) to (b7j3a.west) (b7j3.east) to (b7j3b.west) (b7j3.east) to (b7j3c.west);

\end{tikzpicture}
\end{document}
